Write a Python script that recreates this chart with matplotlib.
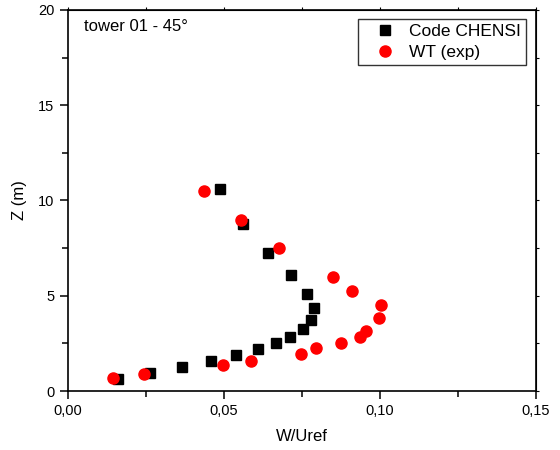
import matplotlib
matplotlib.use('Agg')
from matplotlib import pyplot as plt
from matplotlib.ticker import MultipleLocator, FuncFormatter, NullFormatter

"""
Vertical profile of W/Uref at tower 01 (45 deg): code vs wind tunnel.
"""

code_w = [0.0487, 0.0561, 0.0641, 0.0715, 0.0766, 0.0788, 0.0779, 0.0753,
          0.0712, 0.0667, 0.0609, 0.0538, 0.0458, 0.0365, 0.0263, 0.0160]
code_z = [10.6, 8.77, 7.24, 6.09, 5.09, 4.36, 3.73, 3.25,
          2.83, 2.52, 2.20, 1.89, 1.57, 1.26, 0.94, 0.63]

wt_w = [0.0438, 0.0554, 0.0678, 0.0851, 0.0912, 0.1003, 0.0996, 0.0956,
        0.0937, 0.0875, 0.0795, 0.0746, 0.0588, 0.0498, 0.0245, 0.0145]
wt_z = [10.5, 8.99, 7.5, 6.0, 5.25, 4.5, 3.81, 3.15,
        2.83, 2.54, 2.26, 1.96, 1.57, 1.36, 0.89, 0.68]

plt.rcParams['font.family'] = ['Liberation Sans', 'DejaVu Sans']

fig = plt.figure(figsize=(5.6, 4.5), dpi=100)
ax = fig.add_axes([0.121, 0.131, 0.836, 0.847])

ax.plot(code_w, code_z, 's', color='black', markersize=7, label='Code CHENSI')
ax.plot(wt_w, wt_z, 'o', color='red', markersize=8, label='WT (exp)')

ax.set_xlim(0, 0.15)
ax.set_ylim(0, 20)
ax.xaxis.set_major_locator(MultipleLocator(0.05))
ax.xaxis.set_minor_locator(MultipleLocator(0.025))
ax.yaxis.set_major_locator(MultipleLocator(5))
ax.yaxis.set_minor_locator(MultipleLocator(2.5))
ax.xaxis.set_major_formatter(FuncFormatter(lambda v, p: ('%.2f' % v).replace('.', ',')))

ax.tick_params(which='both', direction='out', labelsize=10.5, width=1.1)
ax.tick_params(which='major', length=6)
ax.tick_params(which='minor', length=4)
for s in ax.spines.values():
    s.set_linewidth(1.2)

# short ticks on the top and right edges
top = ax.secondary_xaxis('top')
top.xaxis.set_major_locator(MultipleLocator(0.025))
top.xaxis.set_major_formatter(NullFormatter())
top.tick_params(direction='out', length=2, width=0.8)
right = ax.secondary_yaxis('right')
right.yaxis.set_major_locator(MultipleLocator(2.5))
right.yaxis.set_major_formatter(NullFormatter())
right.tick_params(direction='out', length=2, width=0.8)

ax.set_xlabel('W/Uref', fontsize=12, labelpad=8)
ax.set_ylabel('Z (m)', fontsize=12, labelpad=8)

ax.text(0.035, 0.977, 'tower 01 - 45°', transform=ax.transAxes, fontsize=12, va='top', ha='left')

leg = ax.legend(loc='upper right', fontsize=12.5, frameon=True, fancybox=False,
                edgecolor='black', handlelength=2.4, handletextpad=0.2, borderpad=0.3,
                labelspacing=0.3, borderaxespad=0, bbox_to_anchor=(0.9786, 0.976))
leg.get_frame().set_linewidth(1.0)

fig.savefig('out.png', dpi=100)
